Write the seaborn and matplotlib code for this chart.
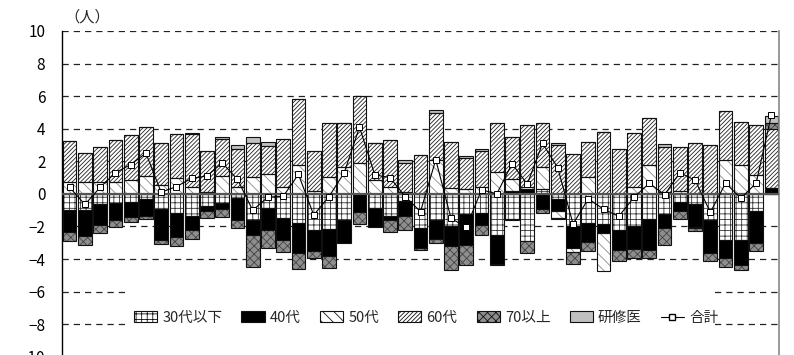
import numpy as np
import pandas as pd
import matplotlib
matplotlib.use("Agg")
import matplotlib.pyplot as plt
import matplotlib.transforms as mtransforms
import seaborn as sns
from matplotlib.patches import Patch, Rectangle
from matplotlib.lines import Line2D

# ---- data (people, per prefecture; 47 bars) ----
u30 = [-1.00, -1.00, -0.60, -0.53, -0.50, -0.30, -0.90, -1.17, -1.35, -0.73,
       -0.53, -0.27, -1.60, -0.88, -1.50, -1.80, -2.20, -2.15, -1.60, 0.00,
       -0.88, -1.33, -0.43, -2.10, -1.60, -2.00, -1.22, -1.18, -2.53, -1.55,
       -2.90, 0.30, -0.33, -1.96, -1.76, -1.84, -2.24, -1.96, -1.55, -1.22,
       -0.52, -0.62, -1.60, -2.83, -2.83, -1.03, 0.00]
s40 = [-1.35, -1.58, -1.30, -1.09, -0.92, -1.03, -1.95, -1.48, -0.88, -0.30,
       -0.41, -1.33, -0.92, -1.33, -1.33, -1.85, -1.33, -1.64, -1.44, -1.10,
       -1.13, -0.27, -0.90, -1.23, -1.17, -1.20, -1.90, -0.74, -1.75, 0.20,
       0.30, -0.94, -0.70, -1.37, -1.17, -0.57, -1.22, -1.43, -1.92, -0.88,
       -0.53, -1.40, -2.05, -1.13, -1.54, -2.00, 0.35]
s50 = [0.75, 0.76, 0.70, 0.76, 0.86, 1.10, 0.55, 1.00, 0.43, 0.10,
       1.10, 0.45, 1.06, 1.22, 0.45, 1.78, 0.20, 1.06, 1.67, 1.90,
       0.86, 0.45, 0.10, 0.00, 2.08, 0.35, 0.30, 0.45, 1.33, 0.72,
       0.10, 1.37, -0.47, -0.24, 1.02, -2.35, 0.00, 0.45, 1.78, 0.10,
       0.20, -0.10, 0.00, 2.10, 1.79, 1.17, 0.00]
s60 = [2.50, 1.73, 2.16, 2.54, 2.74, 2.98, 2.55, 2.65, 3.25, 2.55,
       2.25, 2.28, 2.08, 1.71, 2.92, 4.02, 2.45, 3.27, 2.66, 4.10,
       2.28, 2.85, 1.82, 2.39, 2.90, 2.85, 1.93, 2.20, 3.02, 2.55,
       3.82, 2.70, 3.02, 2.43, 2.18, 3.82, 2.78, 3.31, 2.85, 2.80,
       2.70, 3.10, 3.00, 2.97, 2.60, 3.03, 3.65]
s70 = [-0.55, -0.53, -0.50, -0.41, -0.33, -0.20, -0.20, -0.57, -0.55, -0.47,
       -0.49, -0.47, -1.94, -1.12, -0.72, -0.97, -0.41, -0.74, 0.00, -0.75,
       0.00, -0.72, -0.88, -0.10, -0.27, -1.50, -1.22, -0.60, -0.10, -0.08,
       -0.70, -0.24, -0.05, -0.71, -0.55, 0.00, -0.67, -0.55, -0.47, -1.02,
       -0.49, -0.15, -0.47, -0.51, -0.31, -0.47, 0.37]
ken = [0, 0, 0, 0, 0, 0, 0, 0, 0.08, 0,
       0.12, 0.27, 0.33, 0.27, 0, 0, 0, 0, 0, 0,
       0, 0, 0.16, 0, 0.16, 0, 0.10, 0.10, 0, 0,
       0, 0, 0.12, 0, 0, 0, 0, 0, 0, 0.16,
       0, 0, 0, 0, 0, 0, 0.41]
total = [0.40, -0.65, 0.40, 1.30, 1.80, 2.50, 0.10, 0.45, 0.95, 1.10,
         1.90, 0.90, -1.00, -0.20, -0.15, 1.20, -1.30, -0.17, 1.30, 4.10,
         1.17, 1.00, -0.17, -1.09, 2.10, -1.50, -2.05, 0.25, 0.00, 1.85,
         0.60, 3.10, 1.60, -1.85, -0.30, -0.94, -1.38, -0.20, 0.65, -0.05,
         1.30, 0.84, -1.13, 0.66, -0.27, 0.66, 4.84]
series_names = ["30代以下", "40代", "50代", "60代", "70以上", "研修医"]
total_name = "合計"
yticks = [10, 8, 6, 4, 2, 0, -2, -4, -6, -8, -10]

# ---- styling ----
sns.set_theme(style="white")
plt.rcParams["font.family"] = ["Noto Sans CJK JP", "DejaVu Sans"]
plt.rcParams["hatch.linewidth"] = 0.6
plt.rcParams["axes.unicode_minus"] = True

styles = [
    dict(fc="white", hatch="+++", hc="#333333"),
    dict(fc="black", hatch=None, hc="black"),
    dict(fc="white", hatch="\\\\\\", hc="#8a8a8a"),
    dict(fc="white", hatch="////////", hc="#222222"),
    dict(fc="#8e8e8e", hatch="xxxx", hc="#444444"),
    dict(fc="#c0c0c0", hatch=None, hc="#c0c0c0"),
]

fig = plt.figure(figsize=(7.94, 3.55), dpi=100)
ax = fig.add_axes([62 / 794, -0.005, 717 / 794, 0.9177])

n = len(total)
x = np.arange(n)
data = [u30, s40, s50, s60, s70, ken]
pos_b = np.zeros(n)
neg_b = np.zeros(n)
for vals, st in zip(data, styles):
    v = np.asarray(vals, dtype=float)
    b = np.where(v >= 0, pos_b, neg_b)
    ax.bar(x, v, bottom=b, width=0.9, color=st["fc"], hatch=st["hatch"],
           edgecolor=st["hc"], linewidth=0, zorder=2)
    ax.bar(x, v, bottom=b, width=0.9, fill=False, edgecolor="#111111",
           linewidth=0.8, zorder=2.5)
    pos_b = np.where(v >= 0, pos_b + v, pos_b)
    neg_b = np.where(v < 0, neg_b + v, neg_b)

# grid lines
for yv in [10, 8, 6, 4, 2, -2, -4, -6, -8]:
    ax.axhline(yv, color="#222222", lw=0.9, ls=(0, (5, 4)), zorder=1)
ax.axhline(0, color="#555555", lw=1.6, zorder=3)

# white legend area (covers gridlines like the original)
trans = mtransforms.blended_transform_factory(ax.transAxes, ax.transData)
ax.add_patch(Rectangle((68 / 717, -9.6), 582 / 717, 4.1, transform=trans,
                       facecolor="white", edgecolor="none", zorder=1.5))

df = pd.DataFrame({"x": x, "total": total})
sns.lineplot(data=df, x="x", y="total", ax=ax, color="black", lw=0.8,
             marker="s", markersize=4.5, markerfacecolor="white",
             markeredgecolor="black", markeredgewidth=0.7, zorder=4)

ax.set_xlim(-0.5, n - 0.5)
ax.set_ylim(-10, 10)
ax.set_yticks(yticks)
ax.set_yticklabels([str(t).replace("-", "\u2212") for t in yticks], fontsize=11)
ax.tick_params(axis="y", length=0, pad=12, colors="black")
ax.set_xticks([])
ax.set_xlabel("")
ax.set_ylabel("")
for s in ["top", "bottom"]:
    ax.spines[s].set_visible(False)
ax.spines["left"].set_color("black")
ax.spines["left"].set_linewidth(1.0)
ax.spines["right"].set_color("#888888")
ax.spines["right"].set_linewidth(1.2)

handles = []
for name, st in zip(series_names, styles):
    handles.append(Patch(facecolor=st["fc"], hatch=st["hatch"],
                         edgecolor="#111111", linewidth=0.8, label=name))
handles.append(Line2D([0], [0], color="black", lw=0.8, marker="s",
                      markersize=4, markerfacecolor="white",
                      markeredgecolor="black", label=total_name))
leg = ax.legend(handles=handles, ncol=7, loc="center",
                bbox_to_anchor=(0.508, 0.12), frameon=False, fontsize=10.5,
                handlelength=1.6, handleheight=0.7, handletextpad=0.35,
                columnspacing=1.3, borderpad=0.3)
leg.set_zorder(10)

fig.text(87 / 794, 1 - 17 / 355, "（人）", ha="center", va="center", fontsize=11)

fig.savefig("out.png", dpi=100)
